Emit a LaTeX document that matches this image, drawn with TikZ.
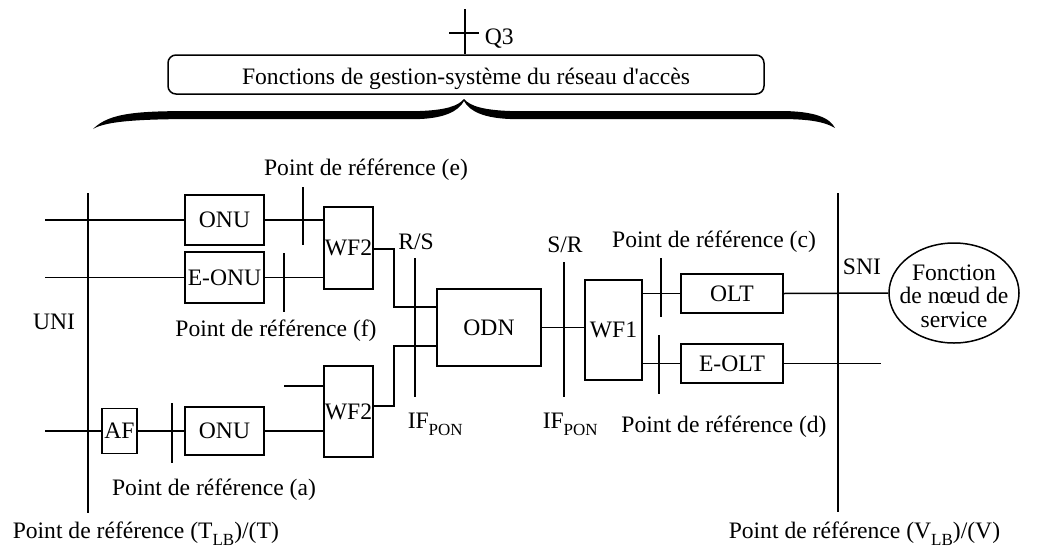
\documentclass[tikz,border=0pt]{standalone}
\usepackage{fontspec}
\setmainfont{Liberation Serif}[Ligatures=TeXOff]
\usetikzlibrary{shapes.geometric,calc}
\newcommand\lowsub[1]{\raisebox{-0.3em}{\fontsize{17}{17}\selectfont #1}}
\begin{document}
\begin{tikzpicture}[x=1pt,y=-1pt,
  line width=1.5pt,
  every node/.style={font=\fontsize{23.6}{23.6}\selectfont, inner sep=0pt},
  blk/.style={draw, rectangle, minimum width=#1},
  lbl/.style={anchor=base},
  lblw/.style={anchor=base west}]
\useasboundingbox (0,0) rectangle (1046,549);

% management functions and Q3 interface
\node[draw, rounded corners=8pt, minimum width=596pt, minimum height=39pt] (mgmt) at (466,74.5) {};
\node[lbl] (mgmttxt) at (466,84) {Fonctions de gestion-système du réseau d'accès};
\coordinate (q3top) at (465,9);
\draw (q3top) -- (q3top |- mgmt.north);
\coordinate (q3l) at (449,33);
\coordinate (q3r) at (479,33);
\draw (q3l) -- (q3r);
\node[lblw] (q3) at (484,44) {Q3};

% brace under the management box
\fill (93,129) .. controls (110,112) and (140,111) .. (200,111) -- (420,111)
  .. controls (446,110) and (458,106) .. (464,99)
  .. controls (470,106) and (483,110) .. (510,111) -- (780,111)
  .. controls (815,111) and (830,118) .. (835,128)
  .. controls (825,122) and (810,119) .. (780,119) -- (510,119)
  .. controls (485,118) and (470,112) .. (464,101)
  .. controls (458,112) and (443,118) .. (420,119) -- (200,119)
  .. controls (140,119) and (106,121) .. (93,129) -- cycle;

% blocks
\node[blk=79pt, minimum height=50pt] (onu1) at (224.5,220) {ONU};
\node[blk=79pt, minimum height=51pt] (eonu) at (224.5,277.5) {E-ONU};
\node[blk=49pt, minimum height=82pt] (wf2a) at (348.5,248) {WF2};
\node[blk=35pt, minimum height=45pt] (af) at (119.5,431) {AF};
\node[blk=79pt, minimum height=48pt] (onu2) at (224.5,431) {ONU};
\node[blk=49pt, minimum height=91pt] (wf2b) at (348.5,411.5) {WF2};
\node[blk=104pt, minimum height=77pt] (odn) at (489,327.5) {ODN};
\node[blk=57pt, minimum height=100pt] (wf1) at (613.5,330) {WF1};
\node[blk=102pt, minimum height=39pt] (olt) at (732,293.5) {OLT};
\node[blk=102pt, minimum height=39pt] (eolt) at (732,363.5) {E-OLT};
\node[draw, ellipse, minimum width=130pt, minimum height=100pt] (svc) at (954,293) {};
\node[align=center, font=\fontsize{23.6}{23.5}\selectfont] (svctxt) at (954,296) {Fonction\\de nœud de\\service};

% reference lines
\coordinate (uniT) at (88,193);   \coordinate (uniB) at (88,513);
\draw (uniT) -- (uniB);
\coordinate (sniT) at (838,193);  \coordinate (sniB) at (838,512);
\draw (sniT) -- (sniB);
\coordinate (rsT) at (415,258);   \coordinate (rsB) at (415,397);
\draw (rsT) -- (rsB);
\coordinate (srT) at (564,262);   \coordinate (srB) at (564,397);
\draw (srT) -- (srB);

% user side connections
\coordinate (in1) at (45,220);
\draw (in1) -- (onu1.west);
\draw (onu1.east) -- (onu1.east -| wf2a.west);
\coordinate (te1) at (303,187); \coordinate (te2) at (303,245);
\draw (te1) -- (te2);
\coordinate (in2) at (45,277.5);
\draw (in2) -- (eonu.west);
\draw (eonu.east) -- (eonu.east -| wf2a.west);
\coordinate (tf1) at (284,253); \coordinate (tf2) at (284,312);
\draw (tf1) -- (tf2);

\coordinate (in3) at (45,431);
\draw (in3) -- (af.west);
\draw (af.east) -- (onu2.west);
\coordinate (ta1) at (172,403); \coordinate (ta2) at (172,463);
\draw (ta1) -- (ta2);
\draw (onu2.east) -- (onu2.east -| wf2b.west);
\coordinate (in4) at (284,386);
\draw (in4) -- (in4 -| wf2b.west);

% WF2 to ODN
\coordinate (odnA) at ($(odn.west)+(0,-20.5)$);
\coordinate (odnB) at ($(odn.west)+(0,18.5)$);
\coordinate (wfa) at ($(wf2a.east)+(0,1)$);
\coordinate (wfb) at ($(wf2b.east)+(0,-5.5)$);
\draw (wfa) -- (394,249) |- (odnA);
\draw (wfb) -- (394,406) |- (odnB);

% ODN to WF1 to OLTs
\draw (odn.east) -- (odn.east -| wf1.west);
\draw (olt.west -| wf1.east) -- (olt.west);
\draw (eolt.west -| wf1.east) -- (eolt.west);
\coordinate (tc1) at (661,258); \coordinate (tc2) at (661,317);
\draw (tc1) -- (tc2);
\coordinate (td1) at (659,335); \coordinate (td2) at (659,394);
\draw (td1) -- (td2);
\draw (olt.east) -- (svc.west);
\coordinate (eoltEnd) at (881,363.5);
\draw (eolt.east) -- (eoltEnd);

% labels
\node[lbl] (le) at (366,175) {Point de référence (e)};
\node[lbl] (lf) at (276,336) {Point de référence (f)};
\node[lbl] (luni) at (54,329) {UNI};
\node[lbl] (lrs) at (416,249) {R/S};
\node[lbl] (lsr) at (565,252) {S/R};
\node[lbl] (lc) at (714,247) {Point de référence (c)};
\node[lbl] (lsni) at (862,274) {SNI};
\node[lblw] (lif1) at (407,428) {IF\lowsub{PON}};
\node[lblw] (lif2) at (542,428) {IF\lowsub{PON}};
\node[lbl] (ld) at (724,432) {Point de référence (d)};
\node[lbl] (la) at (214,495) {Point de référence (a)};
\node[lblw] (lt) at (12,538) {Point de référence (T\lowsub{LB})/(T)};
\node[lblw] (lv) at (728,538) {Point de référence (V\lowsub{LB})/(V)};
\end{tikzpicture}
\end{document}
